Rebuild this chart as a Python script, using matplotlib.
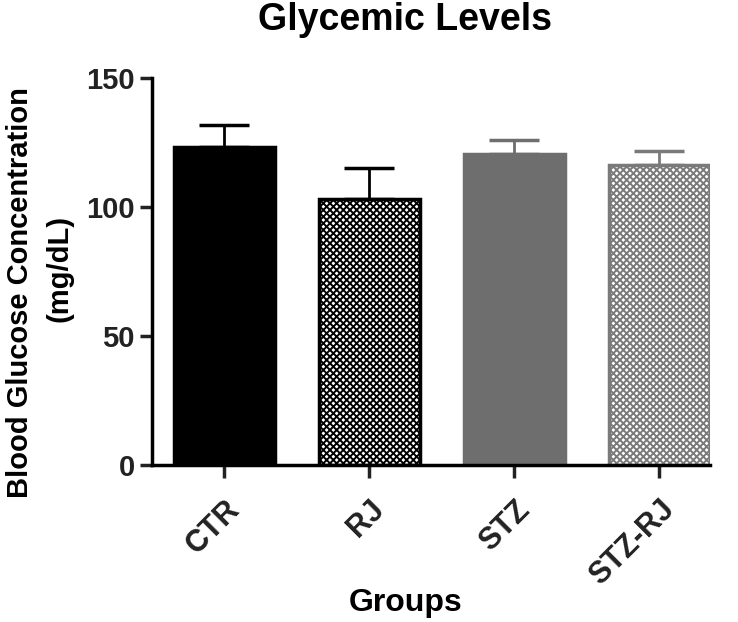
import matplotlib.pyplot as plt

plt.rcParams['font.family'] = ['Liberation Sans', 'DejaVu Sans']
plt.rcParams['font.weight'] = 'bold'
plt.rcParams['hatch.linewidth'] = 1.4

groups = ['CTR', 'RJ', 'STZ', 'STZ-RJ']
means = [123.3, 103.1, 120.5, 116.3]
sem = [8.5, 12.0, 5.5, 5.4]
faces = ['black', 'white', '#6e6e6e', 'white']
edges = ['black', 'black', '#6e6e6e', '#7a7a7a']
hatches = [None, 'xxxxx', None, 'xxxxx']

fig = plt.figure(figsize=(7.38, 6.22), dpi=100)
ax = fig.add_axes([0.206, 0.252, 0.756, 0.623])

x = range(len(groups))
for i in x:
    ax.errorbar(i, means[i], yerr=[[0], [sem[i]]], fmt='none',
                ecolor=edges[i], elinewidth=2, capsize=18, capthick=2.5, zorder=1)
    ax.bar(i, means[i], width=0.7, color=faces[i], edgecolor=edges[i],
           hatch=hatches[i], linewidth=2.5, zorder=2)

ax.set_xlim(-0.5, 3.35)
ax.set_ylim(0, 150)
ax.set_yticks([0, 50, 100, 150])
ax.set_xticks(list(x))
ax.set_xticklabels(groups, rotation=45, ha='right', rotation_mode='anchor')
for s in ['top', 'right']:
    ax.spines[s].set_visible(False)
for s in ['left', 'bottom']:
    ax.spines[s].set_linewidth(2.5)
ax.tick_params(axis='both', width=2.5, length=9, colors='#222222')
ax.tick_params(axis='y', labelsize=21)
ax.tick_params(axis='x', labelsize=22, pad=12)

# title / labels sit left of the axes centre in the original
fig.text(0.549, 0.968, 'Glycemic Levels', fontsize=27, fontweight='bold',
         ha='center', va='center')
fig.text(0.549, 0.031, 'Groups', fontsize=23, fontweight='bold',
         ha='center', va='center')
fig.text(0.027, 1 - 293 / 622, 'Blood Glucose Concentration', fontsize=21,
         fontweight='bold', rotation=90, ha='center', va='center')
fig.text(0.08, 1 - 268 / 622, '(mg/dL)', fontsize=21,
         fontweight='bold', rotation=90, ha='center', va='center')

fig.savefig('out.png', dpi=100)
